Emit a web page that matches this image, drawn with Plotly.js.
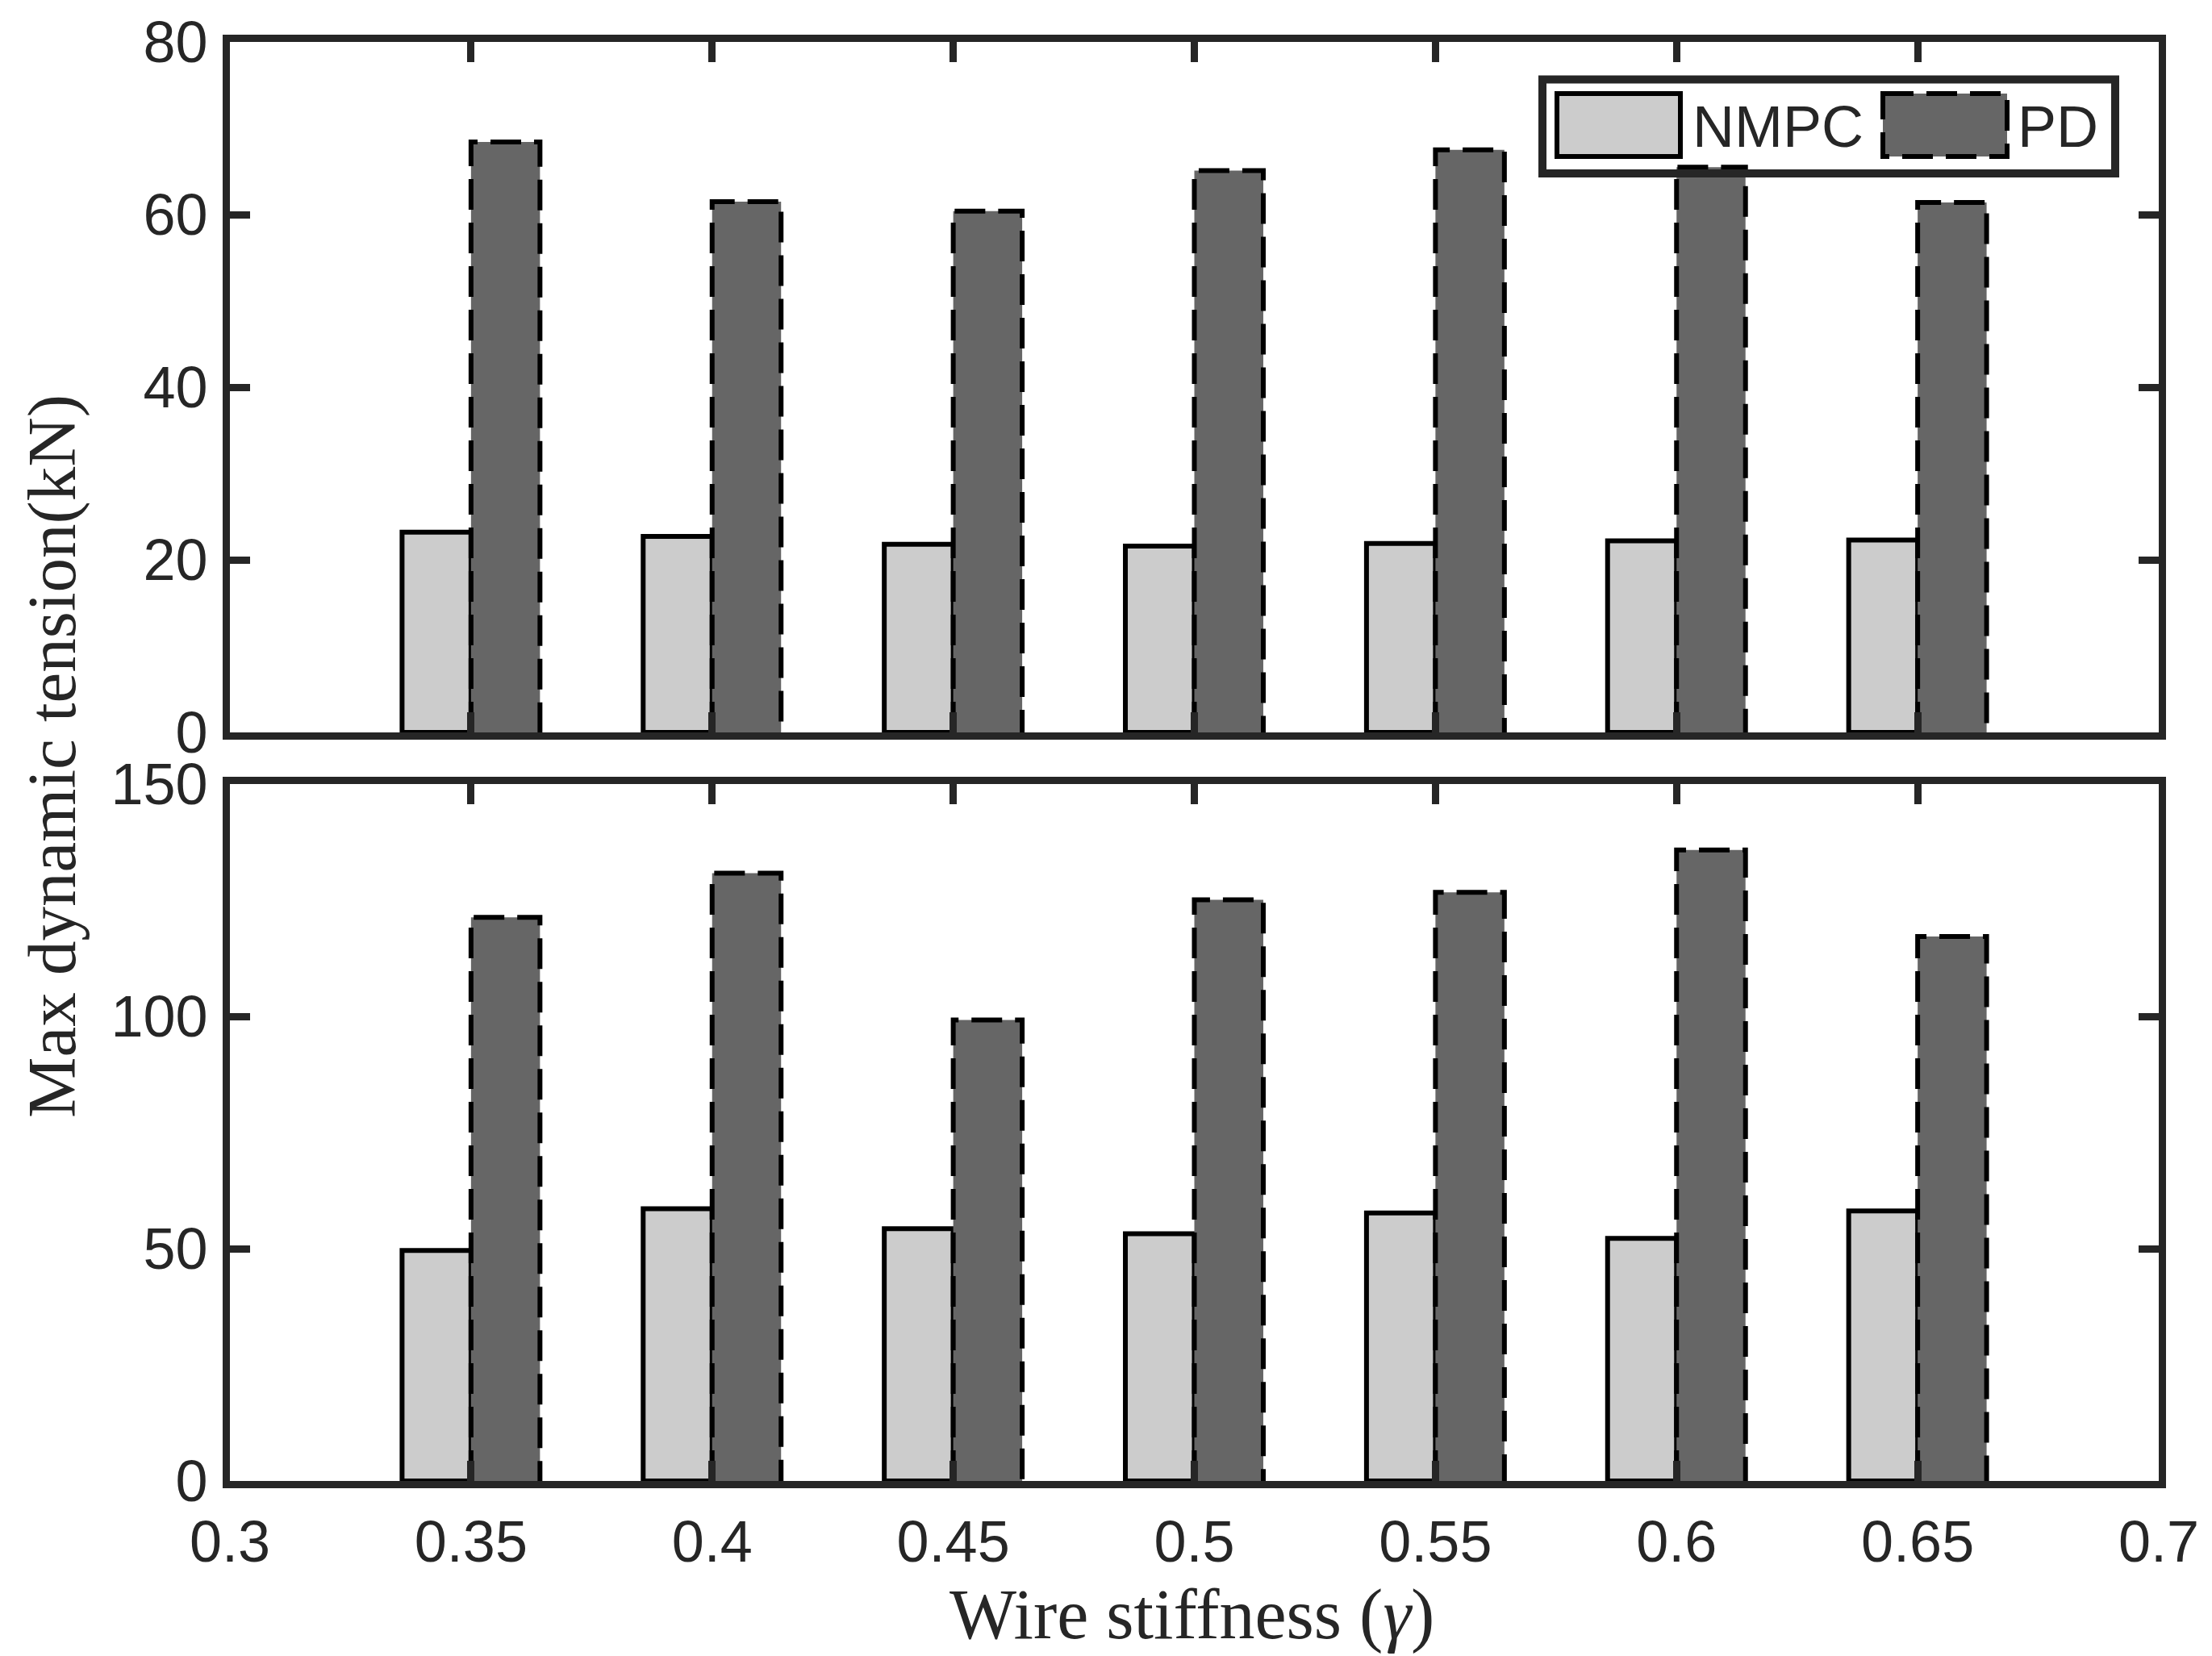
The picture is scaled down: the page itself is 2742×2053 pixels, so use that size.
<!DOCTYPE html>
<html>
<head>
<meta charset="utf-8">
<script src="https://cdn.plot.ly/plotly-3.0.1.min.js"></script>
<style>
  body { margin: 0; background: #fff; }
  #myDiv { width: 2742px; height: 2053px; }
</style>
</head>
<body>
<div id="myDiv"></div>
<script>
// values
var stiffness = [0.35, 0.4, 0.45, 0.5, 0.55, 0.6, 0.65];
var seriesNames = ["NMPC", "PD"];
var topNMPC = [23.2, 22.7, 21.8, 21.6, 21.9, 22.2, 22.3];
var topPD = [68.4, 61.5, 60.4, 65.1, 67.5, 65.5, 61.4];
var botNMPC = [49.6, 58.6, 54.3, 53.2, 57.7, 52.2, 58.1];
var botPD = [121.3, 130.8, 99.2, 125.1, 126.7, 135.8, 117.2];

var xTickVals = [0.3, 0.35, 0.4, 0.45, 0.5, 0.55, 0.6, 0.65, 0.7];
var xTickText = ["0.3", "0.35", "0.4", "0.45", "0.5", "0.55", "0.6", "0.65", "0.7"];
var topYTicks = [0, 20, 40, 60, 80];
var botYTicks = [0, 50, 100, 150];

var yLabel = "Max dynamic tension(kN)";
var xLabel = "Wire stiffness (<i>γ</i>)";

var axisCol = "#262626";
var lightFill = "#cccccc";
var darkFill = "#666666";
var dashPat = "38px,16px";
var barW = 0.0143;

// figure size / plot box in pixels
var W = 2742, H = 2053;
var L = 285, R = 66, T = 52, B = 217;
var plotW = W - L - R, plotH = H - T - B;
function px(x) { return (x - L) / plotW; }
function py(y) { return (H - B - y) / plotH; }

// dashed outline around the PD bars, built from the same values
function outline(xs, ys, xa, ya) {
    var ox = [], oy = [];
    for (var i = 0; i < xs.length; i++) {
        ox.push(xs[i], xs[i], xs[i] + barW, xs[i] + barW, null);
        oy.push(0, ys[i], ys[i], 0, null);
    }
    return {
        x: ox, y: oy, xaxis: xa, yaxis: ya,
        mode: "lines",
        line: {color: "#000", width: 6, dash: dashPat},
        hoverinfo: "skip",
        showlegend: false,
        type: "scatter",
    };
}

function nmpcBars(ys, xa, ya) {
    return {
        x: stiffness, y: ys, xaxis: xa, yaxis: ya,
        name: seriesNames[0],
        width: barW, offset: -barW,
        marker: {color: lightFill, line: {color: "#000", width: 6}},
        showlegend: false,
        type: "bar",
    };
}

function pdBars(ys, xa, ya) {
    return {
        x: stiffness, y: ys, xaxis: xa, yaxis: ya,
        name: seriesNames[1],
        width: barW, offset: 0,
        marker: {color: darkFill, line: {width: 0}},
        showlegend: false,
        type: "bar",
    };
}

var tickFont = {family: "Liberation Sans, Arial, sans-serif", size: 72, color: axisCol};
var serifFont = "Liberation Serif, Times New Roman, serif";

function xAxis(anchor, labels) {
    return {
        domain: [0, 1], anchor: anchor,
        range: [0.3, 0.7],
        tickmode: "array", tickvals: xTickVals, ticktext: xTickText,
        showticklabels: labels,
        ticks: "inside", ticklen: 25, tickwidth: 9, tickcolor: axisCol,
        showline: true, linewidth: 9, linecolor: axisCol, mirror: "ticks",
        showgrid: false, zeroline: false,
        tickfont: tickFont,
        ticklabelstandoff: 5,
    };
}

function yAxis(anchor, dom, rng, ticks) {
    return {
        domain: dom, anchor: anchor,
        range: rng,
        tickmode: "array", tickvals: ticks,
        ticks: "inside", ticklen: 25, tickwidth: 9, tickcolor: axisCol,
        showline: true, linewidth: 9, linecolor: axisCol, mirror: "ticks",
        showgrid: false, zeroline: false,
        tickfont: tickFont,
        ticklabelstandoff: 4,
    };
}

// legend drawn by hand so its swatches can be as big as in the picture
var shapes = [
    {type: "rect", xref: "paper", yref: "paper",
     x0: px(1912), x1: px(2622), y0: py(98.5), y1: py(215),
     fillcolor: "rgba(255,255,255,0)", line: {color: axisCol, width: 10}, layer: "above"},
    {type: "rect", xref: "paper", yref: "paper",
     x0: px(1930), x1: px(2083), y0: py(116), y1: py(194),
     fillcolor: lightFill, line: {color: "#000", width: 6}, layer: "above"},
    {type: "rect", xref: "paper", yref: "paper",
     x0: px(2334), x1: px(2488), y0: py(116), y1: py(194),
     fillcolor: darkFill, line: {color: "#000", width: 6, dash: dashPat}, layer: "above"},
];

var annotations = [
    {xref: "paper", yref: "paper", x: px(2096), y: py(157), xanchor: "left", yanchor: "middle",
     text: seriesNames[0], showarrow: false, font: tickFont},
    {xref: "paper", yref: "paper", x: px(2499), y: py(157), xanchor: "left", yanchor: "middle",
     text: seriesNames[1], showarrow: false, font: tickFont},
    {xref: "paper", yref: "paper", x: px(64), y: py(938), xanchor: "center", yanchor: "middle",
     textangle: -90, text: yLabel, showarrow: false,
     font: {family: serifFont, size: 85, color: axisCol}},
    {xref: "paper", yref: "paper", x: px(1477), y: py(2001), xanchor: "center", yanchor: "middle",
     text: xLabel, showarrow: false,
     font: {family: serifFont, size: 88, color: axisCol}},
];

Plotly.newPlot("myDiv", {
    data: [
        nmpcBars(topNMPC, "x", "y"), pdBars(topPD, "x", "y"), outline(stiffness, topPD, "x", "y"),
        nmpcBars(botNMPC, "x2", "y2"), pdBars(botPD, "x2", "y2"), outline(stiffness, botPD, "x2", "y2"),
    ],
    layout: {
        width: W,
        height: H,
        margin: {l: L, r: R, t: T, b: B, pad: 0},
        paper_bgcolor: "#fff",
        plot_bgcolor: "#fff",
        barmode: "overlay",
        showlegend: false,
        hovermode: false,
        xaxis: xAxis("y", false),
        yaxis: yAxis("x", [py(908), 1], [0, 80], topYTicks),
        xaxis2: xAxis("y2", true),
        yaxis2: yAxis("x2", [0, py(972)], [0, 150], botYTicks),
        shapes: shapes,
        annotations: annotations,
    },
    config: {displayModeBar: false, staticPlot: true},
});
</script>
</body>
</html>
